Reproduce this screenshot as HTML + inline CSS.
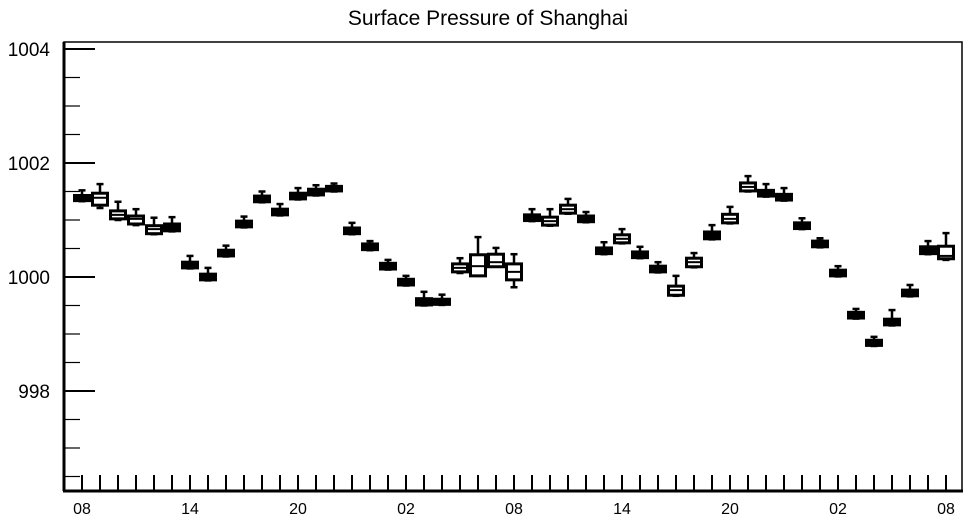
<!DOCTYPE html>
<html><head><meta charset="utf-8"><style>
body{margin:0;background:#fff}
svg{display:block;font-family:"Liberation Sans",Arial,sans-serif}
</style></head><body>
<svg id="chart" width="969" height="520" viewBox="0 0 969 520">
<text x="488" y="25" text-anchor="middle" font-size="21">Surface Pressure of Shanghai</text>
<rect x="64" y="42" width="898" height="449" fill="none" stroke="#000" stroke-width="1.5"/>
<g id="axes"></g>
<g id="marks"></g>
</svg>
<script>
const categories = ["08","09","10","11","12","13","14","15","16","17","18","19","20","21","22","23","00","01","02","03","04","05","06","07","08","09","10","11","12","13","14","15","16","17","18","19","20","21","22","23","00","01","02","03","04","05","06","07","08"];
const medians = [1001.38,1001.39,1001.09,1001.02,1000.84,1000.88,1000.21,1000.0,1000.42,1000.93,1001.37,1001.14,1001.42,1001.49,1001.55,1000.81,1000.53,1000.19,999.91,999.56,999.56,1000.16,1000.19,1000.26,1000.09,1001.04,1000.98,1001.19,1001.02,1000.46,1000.67,1000.39,1000.14,999.77,1000.26,1000.74,1001.02,1001.58,1001.47,1001.40,1000.90,1000.58,1000.07,999.33,998.84,999.21,999.72,1000.46,1000.37];
const q1s = [1001.34,1001.26,1001.02,1000.93,1000.76,1000.81,1000.16,999.95,1000.37,1000.88,1001.32,1001.09,1001.37,1001.44,1001.51,1000.76,1000.48,1000.14,999.86,999.51,999.52,1000.09,1000.02,1000.18,999.95,1000.99,1000.91,1001.12,1000.97,1000.41,1000.60,1000.34,1000.09,999.68,1000.18,1000.67,1000.95,1001.51,1001.42,1001.35,1000.85,1000.53,1000.02,999.28,998.80,999.16,999.67,1000.41,1000.32];
const q3s = [1001.43,1001.47,1001.16,1001.07,1000.90,1000.93,1000.26,1000.05,1000.47,1000.98,1001.42,1001.19,1001.47,1001.54,1001.59,1000.86,1000.58,1000.24,999.96,999.62,999.61,1000.23,1000.39,1000.40,1000.23,1001.09,1001.05,1001.26,1001.07,1000.51,1000.74,1000.44,1000.19,999.84,1000.33,1000.79,1001.10,1001.65,1001.52,1001.45,1000.95,1000.63,1000.12,999.38,998.89,999.26,999.77,1000.53,1000.54];
const mins = [1001.33,1001.21,1001.00,1000.91,1000.75,1000.80,1000.15,999.94,1000.36,1000.87,1001.31,1001.08,1001.36,1001.43,1001.50,1000.75,1000.47,1000.13,999.85,999.50,999.51,1000.07,1000.02,1000.18,999.82,1000.98,1000.90,1001.11,1000.96,1000.40,1000.59,1000.33,1000.08,999.67,1000.17,1000.66,1000.94,1001.50,1001.41,1001.34,1000.84,1000.52,1000.01,999.27,998.79,999.15,999.66,1000.40,1000.30];
const maxs = [1001.52,1001.63,1001.32,1001.19,1001.04,1001.05,1000.37,1000.16,1000.55,1001.06,1001.50,1001.28,1001.56,1001.61,1001.64,1000.95,1000.63,1000.30,1000.02,999.74,999.69,1000.33,1000.70,1000.51,1000.40,1001.19,1001.19,1001.37,1001.14,1000.61,1000.84,1000.53,1000.26,1000.02,1000.42,1000.91,1001.23,1001.77,1001.63,1001.56,1001.03,1000.68,1000.19,999.44,998.95,999.42,999.86,1000.63,1000.77];
const yMajorTicks = [998,1000,1002,1004];
const yTickLabels = ["998","1000","1002","1004"];

const NS="http://www.w3.org/2000/svg";
const yScale = v => 277 - (v-1000)*57;
const xScale = i => 82 + i*18;
const axes=document.getElementById('axes'), marks=document.getElementById('marks');
function mk(tag,attrs,parent){const e=document.createElementNS(NS,tag);for(const k in attrs)e.setAttribute(k,attrs[k]);parent.appendChild(e);return e;}

let la=mk('line',{x1:64,y1:42,x2:64,y2:491,stroke:'#000','stroke-width':3},axes);


let ba=mk('line',{x1:63,y1:491,x2:963,y2:491,stroke:'#000','stroke-width':3},axes);


for(let v=996.5; v<=1004.01; v+=0.5){
  const y=yScale(v); if(y<42||y>491) continue;
  const major=Math.abs(v-Math.round(v))<0.01 && Math.round(v)%2===0;
  const t=mk('line',{x1:64,y1:y,x2:64+(major?31:16),y2:y,stroke:'#000','stroke-width':major?2:1.2},axes);
  
  
}
yMajorTicks.forEach((v,i)=>{
  const t=mk('text',{x:50,y:yScale(v)+7,'text-anchor':'end','font-size':19},axes);
  t.textContent=yTickLabels[i];
  
  
});
categories.forEach((c,i)=>{
  const x=xScale(i);
  const t=mk('line',{x1:x,y1:475,x2:x,y2:491,stroke:'#000','stroke-width':2},axes);
  
  
  if(i%6===0){
    const l=mk('text',{x:x,y:514,'text-anchor':'middle','font-size':16},axes);
    l.textContent=c;
    
    
  }
});
categories.forEach((c,i)=>{
  const x=xScale(i);
  const g=mk('g',{},marks);
  
  
  const yt=yScale(q3s[i]), yb=yScale(q1s[i]);
  const thin=(yb-yt)<7.5;
  mk('line',{x1:x,y1:yScale(maxs[i]),x2:x,y2:yt,stroke:'#000','stroke-width':2.5},g);
  mk('line',{x1:x,y1:yb,x2:x,y2:yScale(mins[i]),stroke:'#000','stroke-width':2.5},g);
  mk('line',{x1:x-3.5,y1:yScale(maxs[i]),x2:x+3.5,y2:yScale(maxs[i]),stroke:'#000','stroke-width':2.5},g);
  mk('line',{x1:x-3.5,y1:yScale(mins[i]),x2:x+3.5,y2:yScale(mins[i]),stroke:'#000','stroke-width':2.5},g);
  mk('rect',{x:x-7.5,y:yt,width:15,height:Math.max(yb-yt,1),fill:thin?'#000':'#fff',stroke:'#000','stroke-width':3},g);
  if(!thin) mk('line',{x1:x-7.5,y1:yScale(medians[i]),x2:x+7.5,y2:yScale(medians[i]),stroke:'#000','stroke-width':2},g);
});
</script>
</body></html>
